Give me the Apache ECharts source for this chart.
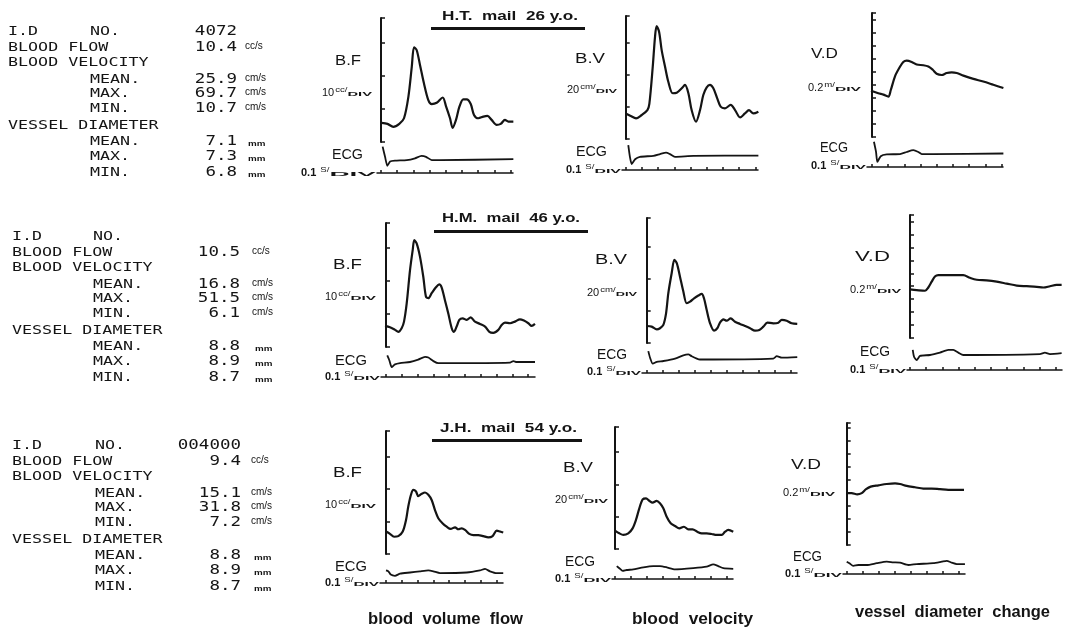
<!DOCTYPE html>
<html>
<head>
<meta charset="utf-8">
<script src="https://cdn.jsdelivr.net/npm/echarts@6.0.0/dist/echarts.min.js"></script>
<style>
  html, body { margin: 0; padding: 0; background: #fff; }
  #main { width: 1069px; height: 632px; }
</style>
</head>
<body>
<div id="main"></div>
<script>
// read-outs printed on the left of each row
var idNo     = ['4072', '', '004000'];
var flowMean = ['10.4', '10.5', '9.4'];
var velMean  = ['25.9', '16.8', '15.1'];
var velMax   = ['69.7', '51.5', '31.8'];
var velMin   = ['10.7', '6.1', '7.2'];
var diaMean  = ['7.1', '8.8', '8.8'];
var diaMax   = ['7.3', '8.9', '8.9'];
var diaMin   = ['6.8', '8.7', '8.7'];
var subjects = ['H.T.  mail  26 y.o.', 'H.M.  mail  46 y.o.', 'J.H.  mail  54 y.o.'];
var captions = ['blood  volume  flow', 'blood  velocity', 'vessel  diameter  change'];

// traces: [time (s), value]   B.F cc/s, B.V cm/s, V.D mm, ECG arbitrary
var bfHT = [[0.004,5.8],[0.04,5.5],[0.076,4.6],[0.113,5.5],[0.142,7.2],[0.169,13.7],[0.19,22.8],[0.204,28.7],[0.22,27.9],[0.241,23.3],[0.265,17.8],[0.292,12.7],[0.313,11.5],[0.344,11.9],[0.381,13.5],[0.401,10.9],[0.426,7.2],[0.442,4.3],[0.463,6.7],[0.484,10.7],[0.508,12.9],[0.529,12.9],[0.554,11.5],[0.574,8.2],[0.601,7.2],[0.632,7.7],[0.657,7.9],[0.683,6.7],[0.714,5.2],[0.739,5.5],[0.765,6.7],[0.786,6.2],[0.817,6.2]];
var bvHT = [[0,16.0],[0.031,14.4],[0.064,12.9],[0.099,15.0],[0.134,18.1],[0.146,21.9],[0.167,45.2],[0.181,63.9],[0.191,70.6],[0.206,67.1],[0.222,55.6],[0.243,45.2],[0.263,35.8],[0.29,28.6],[0.315,28.9],[0.346,31.7],[0.366,33.8],[0.387,28.6],[0.407,18.1],[0.434,10.8],[0.459,18.1],[0.479,27.5],[0.5,32.3],[0.52,33.8],[0.541,31.7],[0.565,25.4],[0.586,20.2],[0.613,19.2],[0.648,21.3],[0.675,18.1],[0.706,13.5],[0.736,16.0],[0.761,18.1],[0.788,16.0],[0.819,17.1]];
var vdHT = [[-0.006,6.91],[0.039,6.87],[0.07,6.85],[0.101,6.82],[0.116,6.92],[0.142,7.13],[0.169,7.26],[0.193,7.35],[0.214,7.37],[0.245,7.35],[0.276,7.31],[0.317,7.30],[0.348,7.28],[0.375,7.23],[0.399,7.17],[0.43,7.15],[0.461,7.18],[0.492,7.19],[0.523,7.18],[0.564,7.14],[0.626,7.09],[0.687,7.05],[0.749,7.00],[0.811,6.95]];
var ecgHT1 = [[0.01,0.88],[0.025,0.54],[0.039,0.24],[0.056,0.38],[0.086,0.41],[0.159,0.43],[0.21,0.49],[0.25,0.57],[0.278,0.54],[0.313,0.43],[0.364,0.43],[0.817,0.46]];
var ecgHT2 = [[0.016,0.83],[0.026,0.44],[0.037,0.2],[0.058,0.36],[0.088,0.44],[0.171,0.47],[0.212,0.53],[0.249,0.58],[0.273,0.53],[0.304,0.44],[0.418,0.47],[0.819,0.48]];
var ecgHT3 = [[0.012,0.84],[0.025,0.5],[0.033,0.17],[0.054,0.36],[0.091,0.42],[0.173,0.43],[0.214,0.5],[0.255,0.56],[0.286,0.5],[0.307,0.43],[0.379,0.43],[0.811,0.45]];

var bfHM = [[-0.006,6.4],[0.025,6.0],[0.057,5.2],[0.078,4.6],[0.099,5.7],[0.114,7.7],[0.131,13.2],[0.152,23.3],[0.169,29.4],[0.179,32.4],[0.194,31.4],[0.215,27.4],[0.236,21.3],[0.253,15.2],[0.268,14.8],[0.289,16.3],[0.316,18.1],[0.337,19.0],[0.352,18.1],[0.373,14.2],[0.394,10.2],[0.416,5.7],[0.43,4.6],[0.447,6.2],[0.464,8.2],[0.485,8.7],[0.511,8.2],[0.536,9.0],[0.563,7.7],[0.595,7.0],[0.627,6.2],[0.654,4.6],[0.679,4.3],[0.711,5.2],[0.732,6.7],[0.753,7.4],[0.785,7.2],[0.816,7.7],[0.848,8.4],[0.873,8.0],[0.901,7.2],[0.922,6.4],[0.943,7.0]];
var bvHM = [[0,10.6],[0.031,10.2],[0.063,8.5],[0.083,9.2],[0.104,11.3],[0.121,18.5],[0.135,31.0],[0.156,43.5],[0.173,51.9],[0.188,49.8],[0.208,41.4],[0.229,32.1],[0.25,24.8],[0.271,25.8],[0.296,27.9],[0.323,29.6],[0.344,30.6],[0.358,27.9],[0.375,20.6],[0.396,12.3],[0.421,7.7],[0.441,9.2],[0.458,12.7],[0.479,14.8],[0.5,13.9],[0.525,15.4],[0.552,13.3],[0.583,11.9],[0.614,10.6],[0.646,9.2],[0.677,7.7],[0.704,8.1],[0.729,10.2],[0.754,12.7],[0.791,12.3],[0.823,12.7],[0.844,14.4],[0.875,13.9],[0.906,12.3],[0.941,11.9]];
var vdHM = [[0,8.75],[0.041,8.74],[0.093,8.73],[0.113,8.78],[0.134,8.87],[0.154,8.95],[0.175,8.97],[0.227,8.97],[0.288,8.97],[0.329,8.97],[0.37,8.93],[0.412,8.9],[0.473,8.89],[0.535,8.87],[0.597,8.84],[0.659,8.81],[0.72,8.8],[0.782,8.79],[0.823,8.78],[0.864,8.8],[0.905,8.82],[0.936,8.82]];
var ecgHM1 = [[0.008,0.72],[0.021,0.56],[0.036,0.33],[0.057,0.42],[0.089,0.46],[0.152,0.5],[0.204,0.58],[0.247,0.67],[0.268,0.65],[0.3,0.53],[0.331,0.46],[0.405,0.46],[0.785,0.48],[0.806,0.53],[0.827,0.5],[0.943,0.5]];
var ecgHM2 = [[0.01,0.73],[0.021,0.51],[0.038,0.31],[0.063,0.37],[0.104,0.4],[0.177,0.48],[0.229,0.59],[0.26,0.62],[0.281,0.56],[0.313,0.48],[0.333,0.45],[0.791,0.48],[0.813,0.56],[0.844,0.51],[0.941,0.53]];
var ecgHM3 = [[0.017,0.67],[0.025,0.44],[0.041,0.33],[0.062,0.47],[0.123,0.5],[0.185,0.58],[0.237,0.67],[0.267,0.67],[0.298,0.58],[0.329,0.5],[0.802,0.53],[0.833,0.58],[0.864,0.53],[0.936,0.56]];

var bfJH = [[0,6.9],[0.025,6.2],[0.051,5.3],[0.078,5.5],[0.106,6.9],[0.127,10.5],[0.141,14.6],[0.158,18.2],[0.173,19.7],[0.19,19.2],[0.204,17.8],[0.226,18.5],[0.247,18.9],[0.268,18.2],[0.289,16.6],[0.31,13.5],[0.331,11.0],[0.359,9.4],[0.384,8.4],[0.409,7.7],[0.437,8.2],[0.458,7.6],[0.479,7.9],[0.5,7.4],[0.527,6.2],[0.553,5.8],[0.584,5.8],[0.616,5.5],[0.647,5.1],[0.675,5.5],[0.701,7.2],[0.722,6.9],[0.742,6.6]];
var bvJH = [[0,11.4],[0.027,9.7],[0.052,8.7],[0.083,9.7],[0.11,12.8],[0.131,18.0],[0.152,25.2],[0.173,30.8],[0.194,31.4],[0.214,29.9],[0.235,28.7],[0.26,29.8],[0.281,28.3],[0.302,25.2],[0.323,20.0],[0.348,15.9],[0.375,14.3],[0.402,12.8],[0.431,13.8],[0.458,12.2],[0.485,12.2],[0.514,10.7],[0.542,9.7],[0.573,9.7],[0.604,9.3],[0.635,8.7],[0.667,8.7],[0.688,10.7],[0.708,11.8],[0.739,10.7]];
var vdJH = [[-0.004,8.8],[0.031,8.8],[0.066,8.78],[0.094,8.8],[0.121,8.86],[0.15,8.9],[0.198,8.92],[0.25,8.94],[0.302,8.95],[0.333,8.94],[0.375,8.91],[0.427,8.89],[0.479,8.87],[0.531,8.87],[0.583,8.86],[0.635,8.85],[0.688,8.85],[0.733,8.85]];
var ecgJH1 = [[0,0.42],[0.015,0.39],[0.03,0.28],[0.057,0.24],[0.089,0.31],[0.152,0.35],[0.215,0.39],[0.268,0.42],[0.3,0.39],[0.342,0.33],[0.511,0.35],[0.595,0.42],[0.627,0.47],[0.658,0.39],[0.701,0.33],[0.742,0.33]];
var ecgJH2 = [[0.011,0.43],[0.027,0.36],[0.048,0.27],[0.073,0.3],[0.114,0.32],[0.177,0.39],[0.239,0.43],[0.281,0.43],[0.323,0.39],[0.375,0.32],[0.489,0.36],[0.573,0.41],[0.614,0.49],[0.645,0.43],[0.677,0.36],[0.739,0.34]];
var ecgJH3 = [[0,0.41],[0.017,0.36],[0.041,0.27],[0.073,0.3],[0.125,0.3],[0.188,0.36],[0.25,0.41],[0.291,0.39],[0.333,0.38],[0.385,0.3],[0.438,0.33],[0.541,0.36],[0.594,0.41],[0.625,0.44],[0.656,0.38],[0.688,0.33],[0.739,0.33]];

// panel layout (px). ax = y-axis x, t0 = x of first ECG tick, div = px per 0.1 s
// fade = time span of the fast upstroke, which the recorder drew faint
var panels = [
  {wave: bfHT, ecg: ecgHT1, ax: 373, top: 18,  bot: 142, t0: 381,   div: 16.2, right: 513, ecgL: 377, ecgY: 173, min: 0,   max: 37.6, step: 10, fade: [0.148, 0.2],
   name: 'B.F', nx: 335, ny: 61,  nw: 26, num: '10', sup: 'cc/', ux: 322, uy: 93,  ex: 332, ey: 155, ew: 31, tx: 301, ty: 173},
  {wave: bvHT, ecg: ecgHT2, ax: 618, top: 16,  bot: 139, t0: 625.7, div: 16.2, right: 758, ecgL: 622, ecgY: 170, min: 0,   max: 76.9, step: 20, fade: [0.146, 0.186],
   name: 'B.V', nx: 575, ny: 59,  nw: 30, num: '20', sup: 'cm/', ux: 567, uy: 90,  ex: 576, ey: 152, ew: 31, tx: 566, ty: 170},
  {wave: vdHT, ecg: ecgHT3, ax: 862, top: 13,  bot: 137, t0: 872,   div: 16.2, right: 1003, ecgL: 867, ecgY: 167, min: 6.2, max: 8.1, step: 0.2,
   name: 'V.D', nx: 811, ny: 54,  nw: 27, num: '0.2', sup: 'm/', ux: 808, uy: 88,  ex: 820, ey: 148, ew: 28, tx: 811, ty: 166},
  {wave: bfHM, ecg: ecgHM1, ax: 377, top: 223, bot: 347, t0: 386,   div: 15.8, right: 535, ecgL: 381, ecgY: 377, min: 0,   max: 37.6, step: 10, fade: [0.12, 0.172],
   name: 'B.F', nx: 333, ny: 265, nw: 29, num: '10', sup: 'cc/', ux: 325, uy: 297, ex: 335, ey: 361, ew: 32, tx: 325, ty: 377},
  {wave: bvHM, ecg: ecgHM2, ax: 638, top: 218, bot: 343, t0: 646.7, div: 16.0, right: 797, ecgL: 642, ecgY: 373, min: 0,   max: 78, step: 20, fade: [0.12, 0.168],
   name: 'B.V', nx: 595, ny: 260, nw: 32, num: '20', sup: 'cm/', ux: 587, uy: 293, ex: 597, ey: 355, ew: 30, tx: 587, ty: 372},
  {wave: vdHM, ecg: ecgHM3, ax: 902, top: 215, bot: 338, t0: 910,   div: 16.2, right: 1062, ecgL: 907, ecgY: 370, min: 8.0, max: 9.9, step: 0.2,
   name: 'V.D', nx: 855, ny: 257, nw: 35, num: '0.2', sup: 'm/', ux: 850, uy: 290, ex: 860, ey: 352, ew: 30, tx: 850, ty: 370},
  {wave: bfJH, ecg: ecgJH1, ax: 377, top: 431, bot: 554, t0: 386,   div: 15.8, right: 503, ecgL: 380, ecgY: 583, min: 0,   max: 37.8, step: 10,
   name: 'B.F', nx: 333, ny: 473, nw: 29, num: '10', sup: 'cc/', ux: 325, uy: 505, ex: 335, ey: 567, ew: 32, tx: 325, ty: 583},
  {wave: bvJH, ecg: ecgJH2, ax: 609, top: 427, bot: 549, t0: 615,   div: 16.0, right: 733, ecgL: 612, ecgY: 579, min: 0,   max: 75.6, step: 20,
   name: 'B.V', nx: 563, ny: 468, nw: 30, num: '20', sup: 'cm/', ux: 555, uy: 500, ex: 565, ey: 562, ew: 30, tx: 555, ty: 579},
  {wave: vdJH, ecg: ecgJH3, ax: 836, top: 423, bot: 545, t0: 846.7, div: 16.0, right: 965, ecgL: 843, ecgY: 574, min: 8.0, max: 9.88, step: 0.2,
   name: 'V.D', nx: 791, ny: 465, nw: 30, num: '0.2', sup: 'm/', ux: 783, uy: 493, ex: 793, ey: 557, ew: 29, tx: 785, ty: 574}
];

var SANS = '"Liberation Sans", Arial, sans-serif';
var MONO = '"DejaVu Sans Mono", monospace';
var INK = '#141414';

var ctx2d = document.createElement('canvas').getContext('2d');
function measure(s, size, weight, family) {
  ctx2d.font = weight + ' ' + size + 'px ' + family;
  return ctx2d.measureText(s).width;
}
function label(s, x, y, size, o) {
  o = o || {};
  var family = o.family || SANS, weight = o.weight || 'normal';
  var sx = o.width ? o.width / measure(s, size, weight, family) : (o.scaleX || 1);
  return {
    type: 'text', x: x, y: y, scaleX: sx, silent: true,
    style: { text: s, fontSize: size, fontFamily: family, fontWeight: weight, fill: INK,
             align: o.align || 'left', verticalAlign: 'middle' }
  };
}
// "10 cc/DIV" style scale labels, squeezed between x and xEnd
function perDiv(num, sup, x, xEnd, y, bold) {
  var w = bold ? 'bold' : 'normal';
  var w1 = measure(num, 11, w, SANS) + 1;
  var w2 = measure(sup, 8, 'normal', SANS) * 1.2;
  var x3 = x + w1 + w2;
  return [
    label(num, x, y, 11, {weight: w}),
    label(sup, x + w1, y - 3, 8, {scaleX: 1.2}),
    label('DIV', x3, y + 1, 6, {weight: 'bold', width: Math.max(xEnd - x3, 8)})
  ];
}

var grids = [], xAxes = [], yAxes = [], series = [], graphics = [], visualMaps = [];

panels.forEach(function (p) {
  var pps = p.div * 10;  // px per second
  var gi = grids.length;
  grids.push({left: p.ax, top: p.top, width: p.right - p.ax, height: p.bot - p.top});
  xAxes.push({gridIndex: gi, type: 'value', show: false, min: (p.ax - p.t0) / pps, max: (p.right - p.t0) / pps});
  yAxes.push({gridIndex: gi, type: 'value', min: p.min, max: p.max, interval: p.step,
    axisLine: {show: true, lineStyle: {color: INK, width: 2}},
    axisTick: {show: true, inside: true, length: 4, lineStyle: {color: INK, width: 1.5}},
    axisLabel: {show: false}, splitLine: {show: false}});
  series.push({type: 'line', xAxisIndex: gi, yAxisIndex: gi, data: p.wave, showSymbol: false, smooth: 0.3,
    lineStyle: {color: INK, width: 2.2}, silent: true});
  if (p.fade) {
    visualMaps.push({type: 'piecewise', show: false, dimension: 0, seriesIndex: series.length - 1,
      pieces: [{lt: p.fade[0], color: INK}, {gte: p.fade[0], lte: p.fade[1], color: '#9a9a9a'}, {gt: p.fade[1], color: INK}]});
  }

  var ticks = [];
  var n = Math.floor((p.right - p.t0) / p.div + 0.2);
  for (var k = 0; k <= n; k++) ticks.push(+(k * 0.1).toFixed(1));
  var ei = grids.length;
  grids.push({left: p.ecgL, top: p.ecgY - 30, width: p.right - p.ecgL, height: 30});
  xAxes.push({gridIndex: ei, type: 'value', min: (p.ecgL - p.t0) / pps, max: (p.right - p.t0) / pps,
    axisLine: {show: true, onZero: false, lineStyle: {color: INK, width: 1.5}},
    axisTick: {show: true, inside: true, length: 3, customValues: ticks, lineStyle: {color: INK, width: 1.5}},
    axisLabel: {show: false}, splitLine: {show: false}});
  yAxes.push({gridIndex: ei, type: 'value', min: 0, max: 1, show: false});
  series.push({type: 'line', xAxisIndex: ei, yAxisIndex: ei, data: p.ecg, showSymbol: false, smooth: 0.2,
    lineStyle: {color: INK, width: 1.8}, silent: true});

  graphics.push(label(p.name, p.nx, p.ny, 14, {width: p.nw}));
  graphics = graphics.concat(perDiv(p.num, p.sup, p.ux, p.ax - 1, p.uy, false));
  graphics.push(label('ECG', p.ex, p.ey, 14, {width: p.ew}));
  graphics = graphics.concat(perDiv('0.1 ', 'S/', p.tx, p.ecgL - 1, p.ty, true));
});

// left read-out blocks
var blocks = [{x0: 8, x1: 90, xv: 237, xu: 245, y: 32}, {x0: 12, x1: 93, xv: 240, xu: 252, y: 237}, {x0: 12, x1: 95, xv: 241, xu: 251, y: 446}];
var lineDy = [0, 16, 31, 48, 62, 77, 94, 110, 125, 141];
blocks.forEach(function (b, r) {
  var L = function (s, col, line) { graphics.push(label(s, col, b.y + lineDy[line], 11.5, {family: MONO, scaleX: 1.45})); };
  var V = function (s, line) { if (s) graphics.push(label(s, b.xv, b.y + lineDy[line] - 1, 14, {family: MONO, scaleX: 1.25, align: 'right'})); };
  var U = function (s, line, small) {
    graphics.push(small
      ? label(s, b.xu + 3, b.y + lineDy[line] + 2, 7, {weight: 'bold', scaleX: 1.4})
      : label(s, b.xu, b.y + lineDy[line] - 2, 10, {scaleX: 1.0}));
  };
  L('I.D', b.x0, 0); L('NO.', b.x1, 0); V(idNo[r], 0);
  L('BLOOD FLOW', b.x0, 1); V(flowMean[r], 1); U('cc/s', 1);
  L('BLOOD VELOCITY', b.x0, 2);
  L('MEAN.', b.x1, 3); V(velMean[r], 3); U('cm/s', 3);
  L('MAX.', b.x1, 4);  V(velMax[r], 4);  U('cm/s', 4);
  L('MIN.', b.x1, 5);  V(velMin[r], 5);  U('cm/s', 5);
  L('VESSEL DIAMETER', b.x0, 6);
  L('MEAN.', b.x1, 7); V(diaMean[r], 7); U('mm', 7, true);
  L('MAX.', b.x1, 8);  V(diaMax[r], 8);  U('mm', 8, true);
  L('MIN.', b.x1, 9);  V(diaMin[r], 9);  U('mm', 9, true);
});

// subject titles with underline
var titlePos = [{x: 442, x2: 578, y: 16, ux: 431, ux2: 585, uy: 27}, {x: 442, x2: 580, y: 218, ux: 434, ux2: 588, uy: 230}, {x: 440, x2: 577, y: 428, ux: 432, ux2: 582, uy: 439}];
titlePos.forEach(function (t, i) {
  graphics.push(label(subjects[i], t.x, t.y, 13, {weight: 'bold', width: t.x2 - t.x}));
  graphics.push({type: 'rect', silent: true, shape: {x: t.ux, y: t.uy, width: t.ux2 - t.ux, height: 3}, style: {fill: INK}});
});

// captions under the columns
var capPos = [{x: 368, x2: 523, y: 620}, {x: 632, x2: 753, y: 620}, {x: 855, x2: 1050, y: 613}];
capPos.forEach(function (c, i) {
  graphics.push(label(captions[i], c.x, c.y, 16, {weight: 'bold', width: c.x2 - c.x}));
});

var chart = echarts.init(document.getElementById('main'));
chart.setOption({
  backgroundColor: '#fff',
  animation: false,
  grid: grids,
  xAxis: xAxes,
  yAxis: yAxes,
  visualMap: visualMaps,
  series: series,
  graphic: {elements: graphics}
});
</script>
</body>
</html>
